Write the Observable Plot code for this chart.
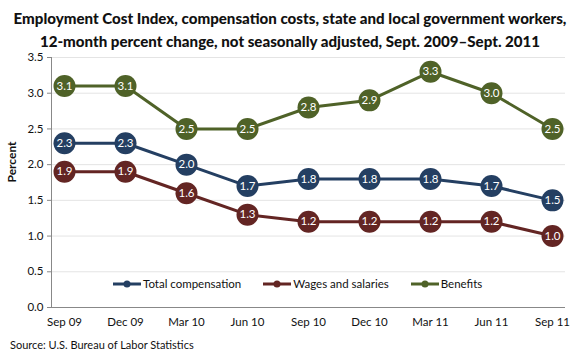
<!DOCTYPE html>
<html>
<head>
<meta charset="utf-8">
<script src="https://cdn.jsdelivr.net/npm/d3@7"></script>
<script src="https://cdn.jsdelivr.net/npm/@observablehq/plot@0.6"></script>
<style>
  body { margin: 0; width: 580px; height: 363px; background: #fff; font-family: Lato, "Open Sans", sans-serif; position: relative; overflow: hidden; }
  #title { position: absolute; top: 7px; left: 0; width: 580px; text-align: center; font-weight: 900; font-size: 15.1px; line-height: 23px; color: #111; }
  #chart { position: absolute; top: 50px; left: 0; }
  #source { position: absolute; top: 338px; left: 10px; font-size: 11px; color: #111; }
  #legend { position: absolute; top: 277px; left: 113px; font-size: 11.5px; color: #111; display: flex; gap: 0; }
  .item { display: flex; align-items: center; margin-right: 22px; }
  .item svg { margin-right: 2px; }
</style>
</head>
<body>
<div id="title">Employment Cost Index, compensation costs, state and local government workers,<br>12-month percent change, not seasonally adjusted, Sept. 2009–Sept. 2011</div>
<div id="chart"></div>
<div id="legend"></div>
<div id="source">Source: U.S. Bureau of Labor Statistics</div>
<script>
const dates = ["Sep 09", "Dec 09", "Mar 10", "Jun 10", "Sep 10", "Dec 10", "Mar 11", "Jun 11", "Sep 11"];
const seriesNames = ["Total compensation", "Wages and salaries", "Benefits"];
const totalComp = [2.3, 2.3, 2.0, 1.7, 1.8, 1.8, 1.8, 1.7, 1.5];
const wages = [1.9, 1.9, 1.6, 1.3, 1.2, 1.2, 1.2, 1.2, 1.0];
const benefits = [3.1, 3.1, 2.5, 2.5, 2.8, 2.9, 3.3, 3.0, 2.5];
const yTicks = [0, 0.5, 1.0, 1.5, 2.0, 2.5, 3.0, 3.5];
const colors = ["#243F62", "#632523", "#4F6228"];

const seriesValues = [totalComp, wages, benefits];
const data = [];
seriesNames.forEach((s, i) => dates.forEach((d, j) => data.push({series: s, date: d, value: seriesValues[i][j]})));

const chart = Plot.plot({
  width: 580,
  height: 285,
  marginTop: 7,
  marginBottom: 28,
  marginLeft: 51,
  marginRight: 15,
  style: {fontFamily: "Lato, 'Open Sans', sans-serif", fontSize: "11px", color: "#111", background: "transparent"},
  x: {type: "point", domain: dates, padding: 0, insetLeft: 11, insetRight: 12, label: null},
  y: {domain: [0, 3.5], label: null},
  color: {domain: seriesNames, range: colors},
  marks: [
    Plot.gridY(yTicks, {stroke: "#e4e4e4", strokeOpacity: 1}),
    Plot.axisY(yTicks, {tickFormat: d => d.toFixed(1), tickSize: 4, tickPadding: 4, stroke: "#888", fontSize: 11.5, label: null}),
    Plot.text(["Percent"], {frameAnchor: "left", dx: -39, rotate: -90, fontWeight: "bold", fontSize: 12}),
    Plot.axisX({tickSize: 0, tickPadding: 10, fontSize: 11.5, label: null}),
    Plot.frame({anchor: "left", stroke: "#888"}),
    Plot.ruleY([0], {stroke: "#888"}),
    Plot.line(data, {x: "date", y: "value", z: "series", stroke: "series", strokeWidth: 3}),
    Plot.dot(data, {x: "date", y: "value", fill: "series", r: 11, stroke: "none"}),
    Plot.text(data, {x: "date", y: "value", text: d => d.value.toFixed(1), fill: "white", fontSize: 11.5})
  ]
});
document.getElementById("chart").appendChild(chart);

const legend = document.getElementById("legend");
seriesNames.forEach((s, i) => {
  const item = document.createElement("div");
  item.className = "item";
  item.innerHTML = `<svg width="28" height="10"><line x1="0" y1="5" x2="28" y2="5" stroke="${colors[i]}" stroke-width="3"/><circle cx="14" cy="5" r="3.5" fill="${colors[i]}"/></svg><span>${s}</span>`;
  legend.appendChild(item);
});
</script>
</body>
</html>
